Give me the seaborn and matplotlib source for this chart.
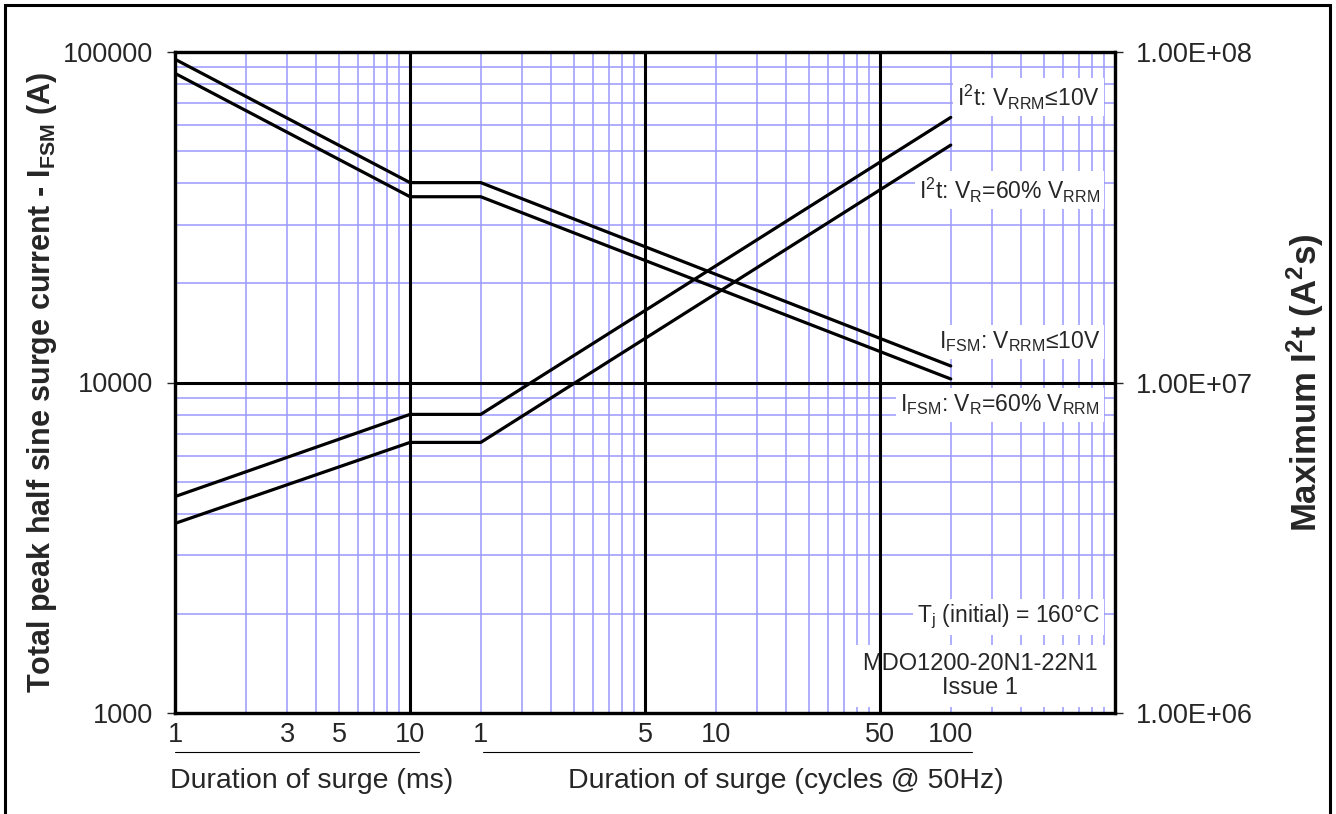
import numpy as np
import matplotlib
matplotlib.use("Agg")
import matplotlib.pyplot as plt
import matplotlib.ticker as mticker
import matplotlib.transforms as mtransforms
from matplotlib.lines import Line2D
from matplotlib.patches import Rectangle
import seaborn as sns

# ---------------- data ----------------
duration_ms = [1, 10, 20, 2000]
ifsm_vrrm_10v = [94900, 40200, 40200, 11220]
ifsm_vr_60pct = [86000, 36440, 36440, 10250]
i2t_vrrm_10v = [4.52e6, 8.01e6, 8.01e6, 6.33e7]
i2t_vr_60pct = [3.75e6, 6.59e6, 6.59e6, 5.22e7]

x_tick_ms = [1, 3, 5, 10, 20, 100, 200, 1000, 2000]
x_tick_labels = ["1", "3", "5", "10", "1", "5", "10", "50", "100"]
left_ticks = [1000, 10000, 100000]
left_tick_labels = ["1000", "10000", "100000"]
right_ticks = [1e6, 1e7, 1e8]
right_tick_labels = ["1.00E+06", "1.00E+07", "1.00E+08"]

ms_span = [1, 10.9]
cycles_span = [20.4, 2460]

# ---------------- style ----------------
sns.set_style("white")
plt.rcParams["font.family"] = ["Liberation Sans", "DejaVu Sans"]
plt.rcParams["mathtext.fontset"] = "custom"
plt.rcParams["mathtext.rm"] = "Liberation Sans"
plt.rcParams["mathtext.it"] = "Liberation Sans:italic"
plt.rcParams["mathtext.bf"] = "Liberation Sans:bold"

FS_TICK = 19.5
FS_XLAB = 20.5
FS_NOTE = 16.5
W, H = 1336, 814
fig = plt.figure(figsize=(W / 100, H / 100), dpi=100)
fig.patch.set_facecolor("white")
L, R, T, B = 175, 1115, 51.7, 713.3
ax = fig.add_axes([L / W, 1 - B / H, (R - L) / W, (B - T) / H])

grid_blue = "#9999ff"

# I_FSM curves (left axis)
sns.lineplot(x=duration_ms, y=ifsm_vrrm_10v, ax=ax, color="black", lw=2.3,
             estimator=None, sort=False, zorder=5)
sns.lineplot(x=duration_ms, y=ifsm_vr_60pct, ax=ax, color="black", lw=2.3,
             estimator=None, sort=False, zorder=5)

ax.set_xscale("log")
ax.set_yscale("log")
ax.set_xlim(1, 10000)
ax.set_ylim(1000, 100000)

# sub-decade gridlines blue (axis level), decade lines black on top
for axis in (ax.xaxis, ax.yaxis):
    axis.set_major_locator(mticker.LogLocator(base=10, numticks=12))
    axis.set_minor_locator(mticker.LogLocator(base=10, subs=np.arange(2, 10), numticks=40))
ax.set_axisbelow("line")
ax.grid(False, which="major")
ax.grid(True, which="minor", color=grid_blue, lw=1.1)
x_lo, x_hi = ax.get_xlim()
y_lo, y_hi = ax.get_ylim()
for d in 10.0 ** np.arange(np.log10(x_lo) + 1, np.log10(x_hi)):
    ax.axvline(d, color="black", lw=2.2, zorder=3)
for d in 10.0 ** np.arange(np.log10(y_lo) + 1, np.log10(y_hi)):
    ax.axhline(d, color="black", lw=2.2, zorder=3)

ax.xaxis.set_major_formatter(mticker.NullFormatter())
ax.xaxis.set_minor_formatter(mticker.NullFormatter())
ax.tick_params(axis="x", which="both", length=0)
ax.set_yticks(left_ticks, left_tick_labels)
ax.yaxis.set_minor_formatter(mticker.NullFormatter())
ax.tick_params(axis="y", which="major", direction="out", length=6, width=1,
               pad=10, labelsize=FS_TICK, left=True)
ax.tick_params(axis="y", which="minor", length=0)
ax.set_xlabel("")
ax.set_ylabel("Total peak half sine surge current - I$\\mathregular{_{FSM}}$ (A)",
              fontsize=22, fontweight="bold", va="center")
ax.yaxis.set_label_coords(-0.1415, 0.5)
for s in ax.spines.values():
    s.set_linewidth(2.3)
    s.set_color("black")

# custom x tick labels (ms section and cycles section)
xt = mtransforms.blended_transform_factory(ax.transData, fig.transFigure)
for v, lbl in zip(x_tick_ms, x_tick_labels):
    ax.text(v, 1 - 742 / H, lbl, transform=xt, ha="center", va="baseline",
            fontsize=FS_TICK, clip_on=False)

for span in (ms_span, cycles_span):
    fig.add_artist(Line2D(span, [1 - 752 / H] * 2, transform=xt, color="black", lw=0.8))

fig.text(311.7 / W, 1 - 788 / H, "Duration of surge (ms)", ha="center",
         va="baseline", fontsize=FS_XLAB)
fig.text(786 / W, 1 - 788 / H, "Duration of surge (cycles @ 50Hz)", ha="center",
         va="baseline", fontsize=FS_XLAB)

# annotations: white boxes hide the blue grid but sit under the black lines
box = dict(facecolor="white", edgecolor="none", pad=3)
notes = [
    (1100, 97, "I$\\mathregular{^2}$t: V$\\mathregular{_{RRM}}$≤10V"),
    (1100, 190, "I$\\mathregular{^2}$t: V$\\mathregular{_R}$=60% V$\\mathregular{_{RRM}}$"),
    (1100, 342, "I$\\mathregular{_{FSM}}$: V$\\mathregular{_{RRM}}$≤10V"),
    (1100, 405, "I$\\mathregular{_{FSM}}$: V$\\mathregular{_R}$=60% V$\\mathregular{_{RRM}}$"),
    (1100, 617, "T$\\mathregular{_j}$ (initial) = 160°C"),
]
for x, y, s in notes:
    ax.text(x / W, 1 - y / H, s, transform=fig.transFigure, ha="right",
            va="center", fontsize=FS_NOTE, bbox=box, zorder=2.5)
ax.text(980 / W, 1 - 676 / H, "MDO1200-20N1-22N1\nIssue 1",
        transform=fig.transFigure, ha="center", va="center", fontsize=17,
        linespacing=1.1, multialignment="center",
        bbox=dict(facecolor="white", edgecolor="none", pad=6), zorder=2.5)

# I2t curves (right axis)
ax2 = ax.twinx()
sns.lineplot(x=duration_ms, y=i2t_vrrm_10v, ax=ax2, color="black", lw=2.3,
             estimator=None, sort=False, zorder=5)
sns.lineplot(x=duration_ms, y=i2t_vr_60pct, ax=ax2, color="black", lw=2.3,
             estimator=None, sort=False, zorder=5)
ax2.set_yscale("log")
ax2.set_ylim(1e6, 1e8)
ax2.set_xlim(1, 10000)
ax2.grid(False)
ax2.set_yticks(right_ticks, right_tick_labels)
ax2.yaxis.set_minor_locator(mticker.NullLocator())
ax2.tick_params(axis="y", which="major", direction="out", length=6, width=1,
                pad=9, labelsize=FS_TICK, right=True)
ax2.set_ylabel("Maximum I$\\mathregular{^2}$t (A$\\mathregular{^2}$s)",
               fontsize=25, fontweight="bold", rotation=90, va="center")
ax2.yaxis.set_label_coords(1.2021, 0.5)
for s in ax2.spines.values():
    s.set_linewidth(2.3)
    s.set_color("black")

# outer frame
fig.add_artist(Rectangle((5 / W, -0.1), (1330 - 5) / W, 1.1 - 5 / H,
                         transform=fig.transFigure, fill=False, lw=2.2,
                         ec="black"))

fig.savefig("out.png", dpi=100, facecolor="white")
